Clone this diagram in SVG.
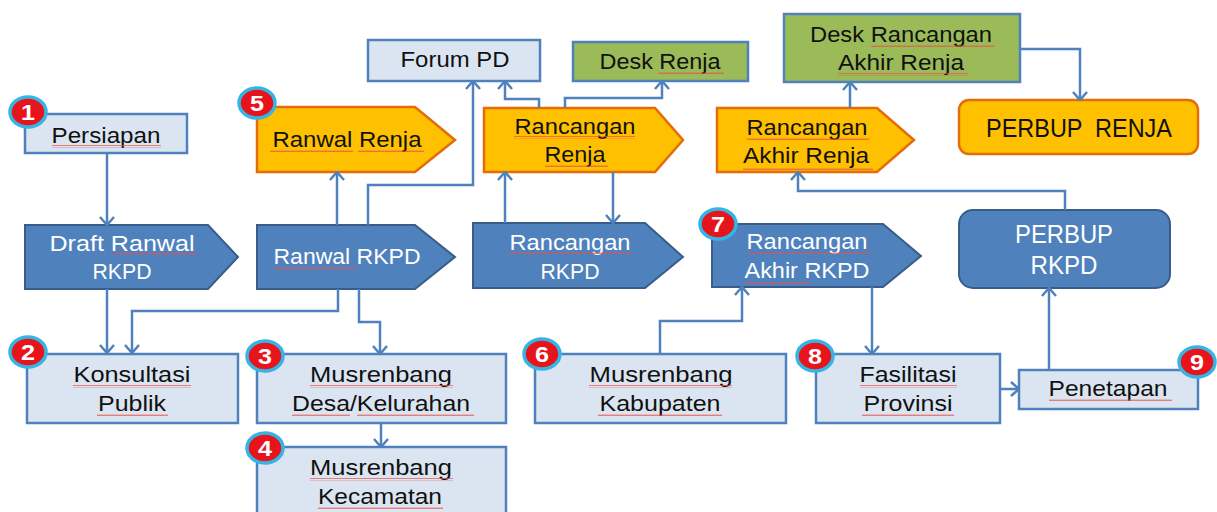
<svg xmlns="http://www.w3.org/2000/svg" width="1217" height="512" viewBox="0 0 1217 512">
<style>
.lt{fill:#dbe5f1;stroke:#4f81bd;stroke-width:2.5}
.bl{fill:#4f81bd;stroke:#385d8a;stroke-width:2}
.or{fill:#ffc000;stroke:#e46c0a;stroke-width:2.5}
.gr{fill:#9bbb59;stroke:#4f81bd;stroke-width:2.5}
text{font-family:"Liberation Sans",Arial,sans-serif;font-size:22px;text-anchor:middle}
.d{fill:#111}
.w{fill:#fff}
.big{font-size:25px}
.sq{fill:url(#sq)}
.cn{fill:none;stroke:#4f81bd;stroke-width:2.5;marker-end:url(#ah)}
.bc{fill:#e8141c;stroke:#35b4e6;stroke-width:3.5}
.bn{fill:#fff;font-weight:bold;font-size:22px}
</style>
<defs>
<pattern id="sq" width="4" height="3" patternUnits="userSpaceOnUse">
<path d="M0,2 L1,0.6 L2,2 L3,0.6 L4,2" fill="none" stroke="#e8504a" stroke-width="0.8"/>
</pattern>
<marker id="ah" viewBox="0 0 10 16" refX="9" refY="8" markerWidth="10" markerHeight="16" orient="auto" markerUnits="userSpaceOnUse">
<path d="M1,1 L9,8 L1,15" fill="none" stroke="#4f81bd" stroke-width="2.5"/>
</marker>
</defs>
<rect width="1217" height="512" fill="#fff"/>

<g id="persiapan">
<rect class="lt" x="25" y="114" width="162" height="39"/>
<text class="d" x="106" y="143" textLength="109" lengthAdjust="spacingAndGlyphs">Persiapan</text>
<rect class="sq" x="52" y="145" width="109" height="3"/>
</g>

<g id="draft-ranwal-rkpd">
<polygon class="bl" points="25,225 208,225 238,257 208,289 25,289"/>
<text class="w" x="122" y="251" textLength="145" lengthAdjust="spacingAndGlyphs">Draft Ranwal</text>
<text class="w" x="122" y="279" textLength="59" lengthAdjust="spacingAndGlyphs">RKPD</text>
<rect class="sq" x="113" y="253" width="85" height="3"/>
</g>

<g id="ranwal-renja">
<polygon class="or" points="257,107 415,107 455,140 415,172 257,172"/>
<text class="d" x="347" y="147" textLength="149" lengthAdjust="spacingAndGlyphs">Ranwal Renja</text>
<rect class="sq" x="270" y="150" width="83" height="3"/>
<rect class="sq" x="358" y="150" width="66" height="3"/>
</g>

<g id="ranwal-rkpd">
<polygon class="bl" points="257,225 415,225 455,257 415,289 257,289"/>
<text class="w" x="347" y="264" textLength="147" lengthAdjust="spacingAndGlyphs">Ranwal RKPD</text>
<rect class="sq" x="274" y="267" width="83" height="3"/>
</g>

<g id="forum-pd">
<rect class="lt" x="368" y="40" width="172" height="41"/>
<text class="d" x="455" y="67" textLength="109" lengthAdjust="spacingAndGlyphs">Forum PD</text>
</g>

<g id="desk-renja">
<rect class="gr" x="573" y="42" width="175" height="39"/>
<text class="d" x="660" y="69" textLength="121" lengthAdjust="spacingAndGlyphs">Desk Renja</text>
<rect class="sq" x="658" y="72" width="66" height="3"/>
</g>

<g id="rancangan-renja">
<polygon class="or" points="484,108 655,108 683,140 655,172 484,172"/>
<text class="d" x="575" y="134" textLength="121" lengthAdjust="spacingAndGlyphs">Rancangan</text>
<text class="d" x="575" y="162" textLength="61" lengthAdjust="spacingAndGlyphs">Renja</text>
<rect class="sq" x="514" y="136" width="121" height="3"/>
<rect class="sq" x="545" y="165" width="63" height="3"/>
</g>

<g id="rancangan-rkpd">
<polygon class="bl" points="473,223 645,223 683,257 645,288 473,288"/>
<text class="w" x="570" y="250" textLength="121" lengthAdjust="spacingAndGlyphs">Rancangan</text>
<text class="w" x="570" y="279" textLength="59" lengthAdjust="spacingAndGlyphs">RKPD</text>
<rect class="sq" x="509" y="252" width="123" height="3"/>
</g>

<g id="desk-rancangan-akhir-renja">
<rect class="gr" x="784" y="14" width="236" height="68"/>
<text class="d" x="901" y="42" textLength="182" lengthAdjust="spacingAndGlyphs">Desk Rancangan</text>
<text class="d" x="901" y="70" textLength="126" lengthAdjust="spacingAndGlyphs">Akhir Renja</text>
<rect class="sq" x="871" y="44" width="123" height="3"/>
<rect class="sq" x="838" y="73" width="130" height="3"/>
</g>

<g id="rancangan-akhir-renja">
<polygon class="or" points="717,108 877,108 914,140 877,172 717,172"/>
<text class="d" x="807" y="135" textLength="121" lengthAdjust="spacingAndGlyphs">Rancangan</text>
<text class="d" x="806" y="163" textLength="126" lengthAdjust="spacingAndGlyphs">Akhir Renja</text>
<rect class="sq" x="747" y="137" width="122" height="3"/>
<rect class="sq" x="743" y="167" width="130" height="3"/>
</g>

<g id="perbup-renja">
<rect class="or" x="959" y="100" width="239" height="54" rx="10"/>
<text class="d big" x="1079" y="137" textLength="186" lengthAdjust="spacingAndGlyphs" xml:space="preserve">PERBUP  RENJA</text>
</g>

<g id="rancangan-akhir-rkpd">
<polygon class="bl" points="712,224 883,224 921,256 883,287 712,287"/>
<text class="w" x="807" y="249" textLength="121" lengthAdjust="spacingAndGlyphs">Rancangan</text>
<text class="w" x="807" y="278" textLength="125" lengthAdjust="spacingAndGlyphs">Akhir RKPD</text>
<rect class="sq" x="747" y="251" width="123" height="3"/>
<rect class="sq" x="745" y="281" width="65" height="3"/>
</g>

<g id="perbup-rkpd">
<rect class="bl" x="959" y="210" width="211" height="78" rx="14"/>
<text class="w big" x="1064" y="243" textLength="98" lengthAdjust="spacingAndGlyphs">PERBUP</text>
<text class="w big" x="1064" y="274" textLength="67" lengthAdjust="spacingAndGlyphs">RKPD</text>
</g>

<g id="konsultasi-publik">
<rect class="lt" x="27" y="354" width="211" height="69"/>
<text class="d" x="132" y="382" textLength="117" lengthAdjust="spacingAndGlyphs">Konsultasi</text>
<text class="d" x="132" y="411" textLength="68" lengthAdjust="spacingAndGlyphs">Publik</text>
<rect class="sq" x="73" y="385" width="118" height="3"/>
<rect class="sq" x="97" y="414" width="71" height="3"/>
</g>

<g id="musrenbang-desa">
<rect class="lt" x="257" y="354" width="249" height="69"/>
<text class="d" x="381" y="382" textLength="142" lengthAdjust="spacingAndGlyphs">Musrenbang</text>
<text class="d" x="381" y="411" textLength="178" lengthAdjust="spacingAndGlyphs">Desa/Kelurahan</text>
<rect class="sq" x="310" y="385" width="143" height="3"/>
<rect class="sq" x="292" y="414" width="58" height="3"/>
<rect class="sq" x="357" y="414" width="117" height="3"/>
</g>

<g id="musrenbang-kecamatan">
<rect class="lt" x="257" y="447" width="249" height="70"/>
<text class="d" x="381" y="475" textLength="142" lengthAdjust="spacingAndGlyphs">Musrenbang</text>
<text class="d" x="380" y="504" textLength="124" lengthAdjust="spacingAndGlyphs">Kecamatan</text>
<rect class="sq" x="310" y="478" width="143" height="3"/>
<rect class="sq" x="318" y="507" width="125" height="3"/>
</g>

<g id="musrenbang-kabupaten">
<rect class="lt" x="535" y="354" width="251" height="69"/>
<text class="d" x="661" y="382" textLength="143" lengthAdjust="spacingAndGlyphs">Musrenbang</text>
<text class="d" x="660" y="411" textLength="121" lengthAdjust="spacingAndGlyphs">Kabupaten</text>
<rect class="sq" x="589" y="385" width="143" height="3"/>
<rect class="sq" x="598" y="414" width="124" height="3"/>
</g>

<g id="fasilitasi-provinsi">
<rect class="lt" x="816" y="354" width="184" height="69"/>
<text class="d" x="908" y="382" textLength="97" lengthAdjust="spacingAndGlyphs">Fasilitasi</text>
<text class="d" x="908" y="411" textLength="89" lengthAdjust="spacingAndGlyphs">Provinsi</text>
<rect class="sq" x="860" y="385" width="97" height="3"/>
<rect class="sq" x="862" y="414" width="92" height="3"/>
</g>

<g id="penetapan">
<rect class="lt" x="1019" y="370" width="179" height="39"/>
<text class="d" x="1108" y="396" textLength="119" lengthAdjust="spacingAndGlyphs">Penetapan</text>
<rect class="sq" x="1049" y="398" width="123" height="3"/>
</g>

<g id="connectors">
<path class="cn" d="M107,154 L107,225"/>
<path class="cn" d="M107,289 L107,353"/>
<path class="cn" d="M338,289 L338,311 L132,311 L132,353"/>
<path class="cn" d="M359,289 L359,322 L380,322 L380,354"/>
<path class="cn" d="M337,225 L337,172"/>
<path class="cn" d="M368,225 L368,185 L473,185 L473,81"/>
<path class="cn" d="M539,108 L539,99 L505,99 L505,81"/>
<path class="cn" d="M565,108 L565,98 L662,98 L662,81"/>
<path class="cn" d="M505,223 L505,172"/>
<path class="cn" d="M613,172 L613,223"/>
<path class="cn" d="M381,423 L381,447"/>
<path class="cn" d="M660,354 L660,321 L742,321 L742,287"/>
<path class="cn" d="M872,287 L872,354"/>
<path class="cn" d="M1000,389 L1019,389"/>
<path class="cn" d="M1049,370 L1049,288"/>
<path class="cn" d="M1065,210 L1065,191 L798,191 L798,172"/>
<path class="cn" d="M850,108 L850,82"/>
<path class="cn" d="M1020,49 L1080,49 L1080,100"/>
</g>

<g id="badges">
<g id="badge-1"><ellipse class="bc" cx="28" cy="112" rx="18" ry="15"/><text class="bn" x="28" y="120" textLength="14" lengthAdjust="spacingAndGlyphs">1</text></g>
<g id="badge-2"><ellipse class="bc" cx="28" cy="352" rx="18" ry="15"/><text class="bn" x="28" y="360" textLength="14" lengthAdjust="spacingAndGlyphs">2</text></g>
<g id="badge-3"><ellipse class="bc" cx="265" cy="356" rx="18" ry="15"/><text class="bn" x="265" y="364" textLength="14" lengthAdjust="spacingAndGlyphs">3</text></g>
<g id="badge-4"><ellipse class="bc" cx="265" cy="448" rx="18" ry="15"/><text class="bn" x="265" y="456" textLength="14" lengthAdjust="spacingAndGlyphs">4</text></g>
<g id="badge-5"><ellipse class="bc" cx="257" cy="103" rx="18" ry="15"/><text class="bn" x="257" y="111" textLength="14" lengthAdjust="spacingAndGlyphs">5</text></g>
<g id="badge-6"><ellipse class="bc" cx="542" cy="354" rx="18" ry="15"/><text class="bn" x="542" y="362" textLength="14" lengthAdjust="spacingAndGlyphs">6</text></g>
<g id="badge-7"><ellipse class="bc" cx="718" cy="224" rx="18" ry="15"/><text class="bn" x="718" y="232" textLength="14" lengthAdjust="spacingAndGlyphs">7</text></g>
<g id="badge-8"><ellipse class="bc" cx="815" cy="356" rx="18" ry="15"/><text class="bn" x="815" y="364" textLength="14" lengthAdjust="spacingAndGlyphs">8</text></g>
<g id="badge-9"><ellipse class="bc" cx="1197" cy="362" rx="18" ry="15"/><text class="bn" x="1197" y="370" textLength="14" lengthAdjust="spacingAndGlyphs">9</text></g>
</g>
</svg>
